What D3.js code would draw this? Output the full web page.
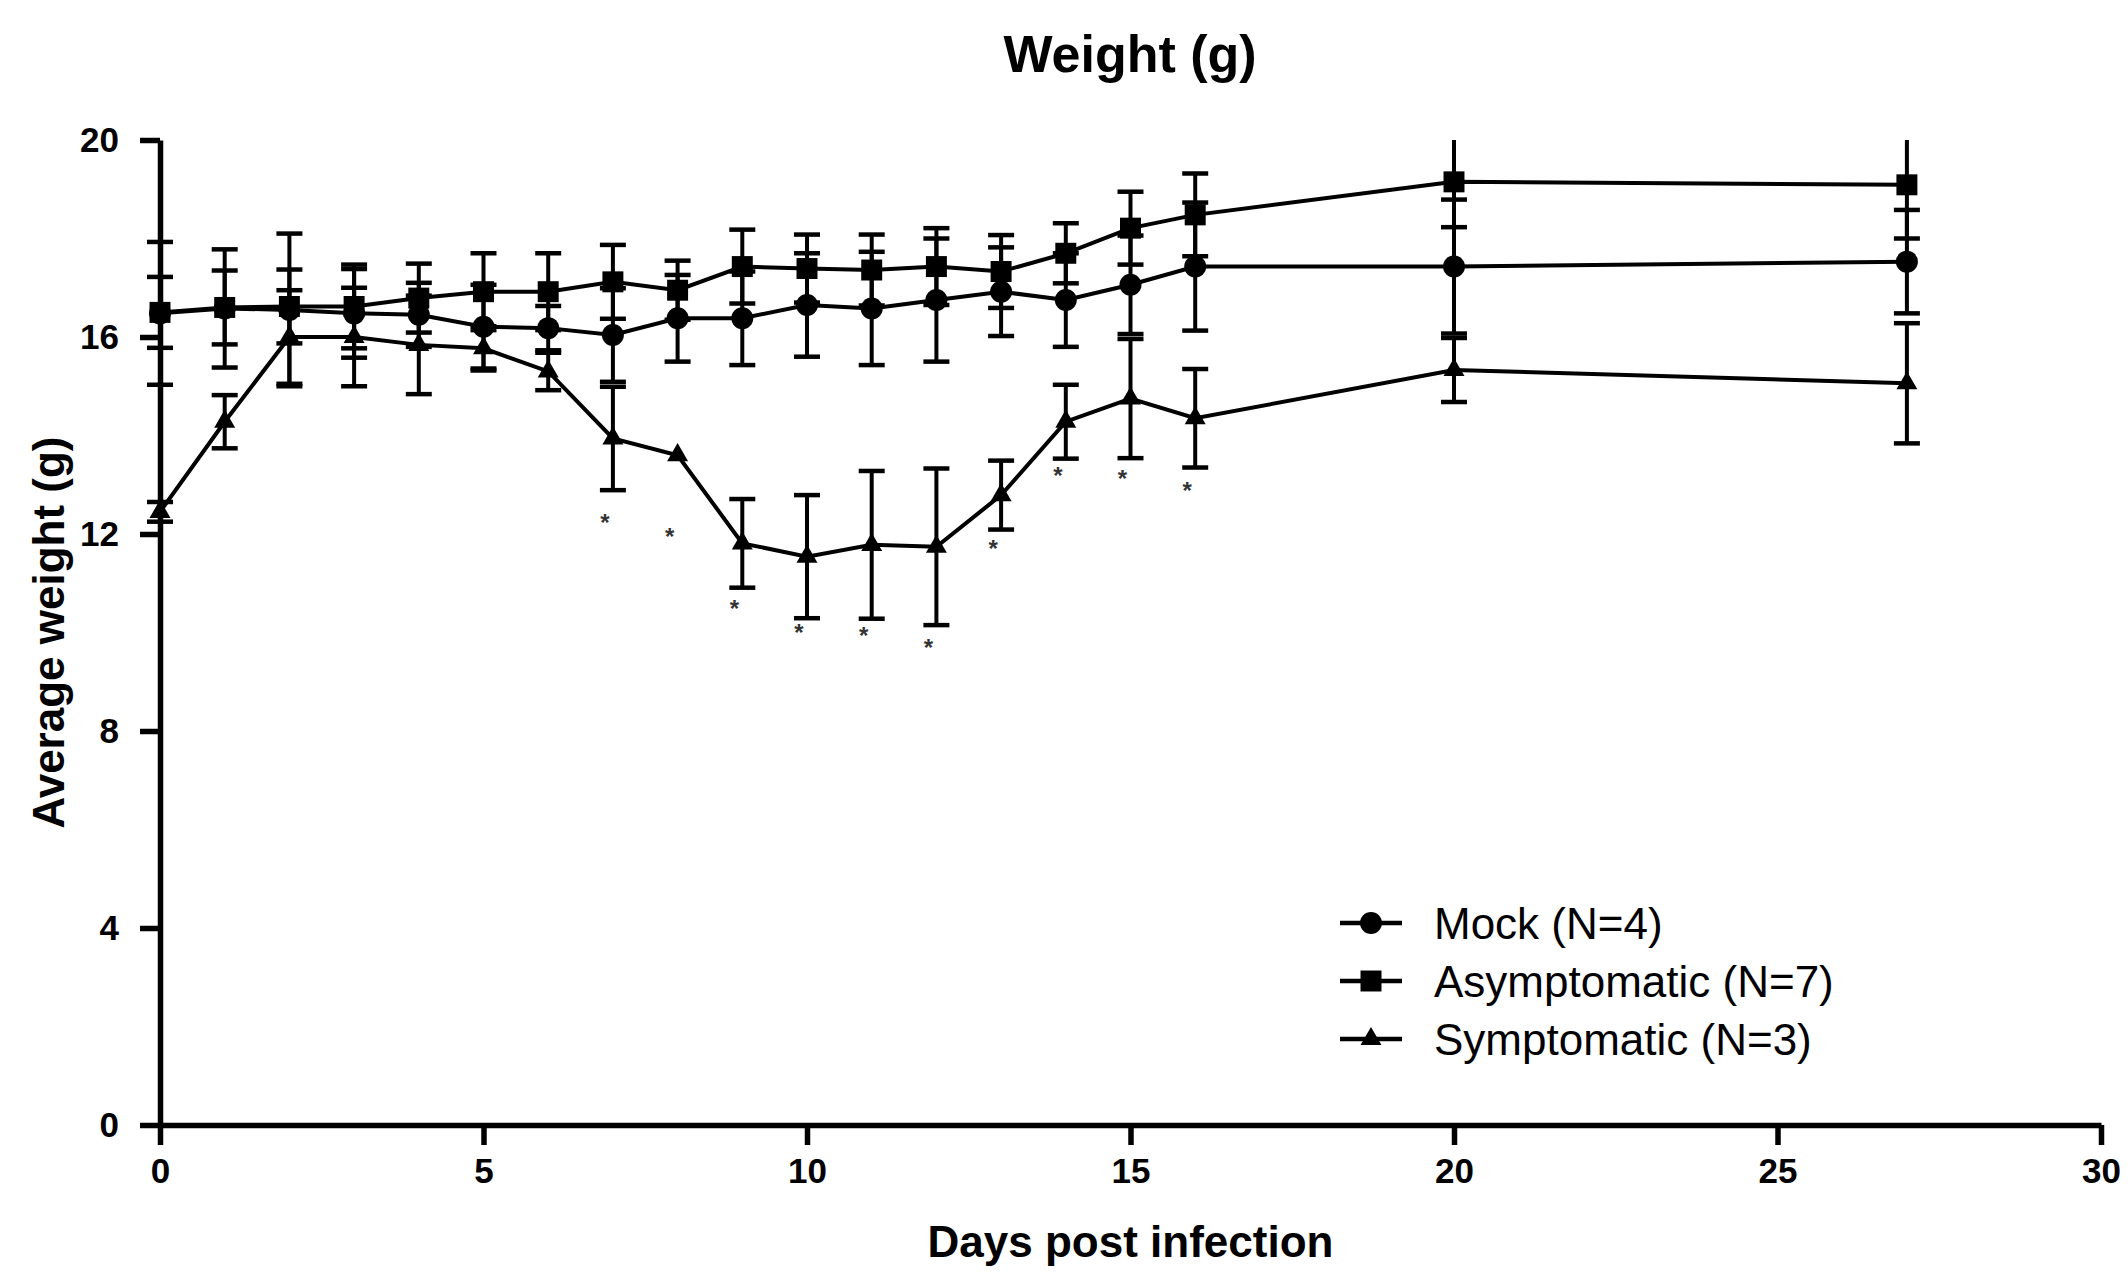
<!DOCTYPE html>
<html>
<head>
<meta charset="utf-8">
<script src="https://cdn.jsdelivr.net/npm/d3@7"></script>
<style>
  body { margin: 0; background: #fff; }
  text { font-family: "Liberation Sans", Arial, sans-serif; fill: #000; }
</style>
</head>
<body>
<div id="chart-area"></div>
<script>
// days post infection
const days = [0, 1, 2, 3, 4, 5, 6, 7, 8, 9, 10, 11, 12, 13, 14, 15, 16, 20, 27];

// mean weight (g) and error per group
const mockMean = [16.48, 16.58, 16.55, 16.48, 16.45, 16.21, 16.18, 16.04, 16.38, 16.38, 16.65, 16.58, 16.75, 16.92, 16.75, 17.06, 17.43, 17.43, 17.53];
const mockErr = [1.45, 1.2, 1.55, 0.9, 0.65, 0.85, 0.45, 0.95, 0.88, 0.95, 1.05, 1.15, 1.25, 0.9, 0.95, 1.0, 1.3, 1.36, 1.05];

const asymMean = [16.5, 16.6, 16.62, 16.62, 16.79, 16.92, 16.92, 17.12, 16.95, 17.43, 17.39, 17.36, 17.43, 17.33, 17.7, 18.21, 18.48, 19.15, 19.09];
const asymErr = [0.72, 0.75, 0.75, 0.85, 0.7, 0.78, 0.78, 0.75, 0.6, 0.75, 0.69, 0.72, 0.78, 0.74, 0.61, 0.74, 0.84, 0.92, 1.09];

const sympMean = [12.45, 14.28, 16.0, 16.0, 15.84, 15.77, 15.3, 13.94, 13.6, 11.81, 11.54, 11.78, 11.74, 12.79, 14.28, 14.75, 14.35, 15.33, 15.06];
const sympErr = [0.2, 0.54, 0.95, 1.0, 1.0, 0.45, 0.38, 1.05, 0, 0.9, 1.25, 1.5, 1.59, 0.7, 0.75, 1.21, 1.0, 0.65, 1.22];

// significance marks under the symptomatic group
const starDays = [7, 8, 9, 10, 11, 12, 13, 14, 15, 16];
const starWeight = [12.25, 11.95, 10.49, 10.02, 9.95, 9.71, 11.71, 13.2, 13.13, 12.89];

const groupNames = ["Mock (N=4)", "Asymptomatic (N=7)", "Symptomatic (N=3)"];
const xTicks = [0, 5, 10, 15, 20, 25, 30];
const yTicks = [0, 4, 8, 12, 16, 20];

const config = {
    width: 2128,
    height: 1288,
    margin: { left: 160, right: 27, top: 140, bottom: 163 }
};
config.chartWidth = config.width - config.margin.left - config.margin.right;
config.chartHeight = config.height - config.margin.top - config.margin.bottom;

const svg = d3.select("#chart-area")
    .append("svg")
    .attr("width", config.width)
    .attr("height", config.height)
    .style("background", "#fff");

const g = svg.append("g")
    .attr("transform", `translate(${config.margin.left}, ${config.margin.top})`);

const xScale = d3.scaleLinear().domain([0, 30]).range([0, config.chartWidth]);
const yScale = d3.scaleLinear().domain([0, 20]).range([config.chartHeight, 0]);

svg.append("defs").append("clipPath")
    .attr("id", "plot-clip")
    .append("rect")
    .attr("x", -40)
    .attr("y", 0)
    .attr("width", config.chartWidth + 80)
    .attr("height", config.chartHeight + 40);

const series = [
    { name: groupNames[2], mean: sympMean, err: sympErr, symbol: d3.symbolTriangle, size: 190 },
    { name: groupNames[0], mean: mockMean, err: mockErr, symbol: d3.symbolCircle, size: 380 },
    { name: groupNames[1], mean: asymMean, err: asymErr, symbol: d3.symbolSquare, size: 440 }
];

const plot = g.append("g").attr("clip-path", "url(#plot-clip)");

const line = d3.line()
    .x(d => xScale(d.day))
    .y(d => yScale(d.value));

series.forEach(s => {
    const pts = days.map((d, i) => ({ day: d, value: s.mean[i], err: s.err[i] }));

    plot.append("path")
        .datum(pts)
        .attr("d", line)
        .attr("fill", "none")
        .attr("stroke", "#000")
        .attr("stroke-width", 4);

    const bars = plot.append("g").selectAll("g")
        .data(pts.filter(p => p.err > 0))
        .enter().append("g");

    bars.append("line")
        .attr("x1", d => xScale(d.day))
        .attr("x2", d => xScale(d.day))
        .attr("y1", d => yScale(d.value - d.err))
        .attr("y2", d => yScale(d.value + d.err))
        .attr("stroke", "#000")
        .attr("stroke-width", 4);

    [-1, 1].forEach(sign => {
        bars.append("line")
            .attr("x1", d => xScale(d.day) - 13)
            .attr("x2", d => xScale(d.day) + 13)
            .attr("y1", d => yScale(d.value + sign * d.err))
            .attr("y2", d => yScale(d.value + sign * d.err))
            .attr("stroke", "#000")
            .attr("stroke-width", 4.5);
    });
});

series.forEach(s => {
    plot.append("g").selectAll("path")
        .data(days.map((d, i) => ({ day: d, value: s.mean[i] })))
        .enter().append("path")
        .attr("d", d3.symbol().type(s.symbol).size(s.size))
        .attr("transform", d => `translate(${xScale(d.day)}, ${yScale(d.value)})`)
        .attr("fill", "#000");
});

g.append("g").selectAll("text")
    .data(starDays.map((d, i) => ({ day: d, value: starWeight[i] })))
    .enter().append("text")
    .attr("x", d => xScale(d.day) - 8)
    .attr("y", d => yScale(d.value) + 9)
    .attr("text-anchor", "middle")
    .attr("font-size", "24px")
    .attr("font-weight", "bold")
    .style("fill", "#333")
    .text("*");

// axes
const xAxisGroup = g.append("g")
    .attr("transform", `translate(0, ${config.chartHeight})`)
    .call(d3.axisBottom(xScale).tickValues(xTicks).tickSize(20).tickSizeOuter(0).tickPadding(13));

const yAxisGroup = g.append("g")
    .call(d3.axisLeft(yScale).tickValues(yTicks).tickSize(20).tickSizeOuter(0).tickPadding(21));

[xAxisGroup, yAxisGroup].forEach(ax => {
    ax.selectAll(".domain").attr("stroke", "#000").attr("stroke-width", 5.5);
    ax.selectAll(".tick line").attr("stroke", "#000").attr("stroke-width", 5.5);
    ax.selectAll("text")
        .attr("font-size", "35px")
        .attr("font-weight", "bold")
        .attr("font-family", "'Liberation Sans', Arial, sans-serif")
        .style("fill", "#000");
});

svg.append("text")
    .attr("x", 1130)
    .attr("y", 72)
    .attr("text-anchor", "middle")
    .attr("font-size", "52px")
    .attr("font-weight", "bold")
    .text("Weight (g)");

svg.append("text")
    .attr("x", config.margin.left + xScale(15))
    .attr("y", 1257)
    .attr("text-anchor", "middle")
    .attr("font-size", "44px")
    .attr("font-weight", "bold")
    .text("Days post infection");

svg.append("text")
    .attr("transform", `translate(64, ${config.margin.top + config.chartHeight / 2}) rotate(-90)`)
    .attr("text-anchor", "middle")
    .attr("font-size", "44px")
    .attr("font-weight", "bold")
    .text("Average weight (g)");

// legend
const legendRows = [series[1], series[2], series[0]];
const legend = svg.append("g").attr("transform", "translate(1340, 923)");
legendRows.forEach((s, i) => {
    const row = legend.append("g").attr("transform", `translate(0, ${i * 58})`);
    row.append("line")
        .attr("x1", 0).attr("x2", 62)
        .attr("y1", 0).attr("y2", 0)
        .attr("stroke", "#000")
        .attr("stroke-width", 4.5);
    row.append("path")
        .attr("d", d3.symbol().type(s.symbol).size(s.size))
        .attr("transform", "translate(31, 0)")
        .attr("fill", "#000");
    row.append("text")
        .attr("x", 94)
        .attr("y", 16)
        .attr("font-size", "44px")
        .text(s.name);
});
</script>
</body>
</html>
